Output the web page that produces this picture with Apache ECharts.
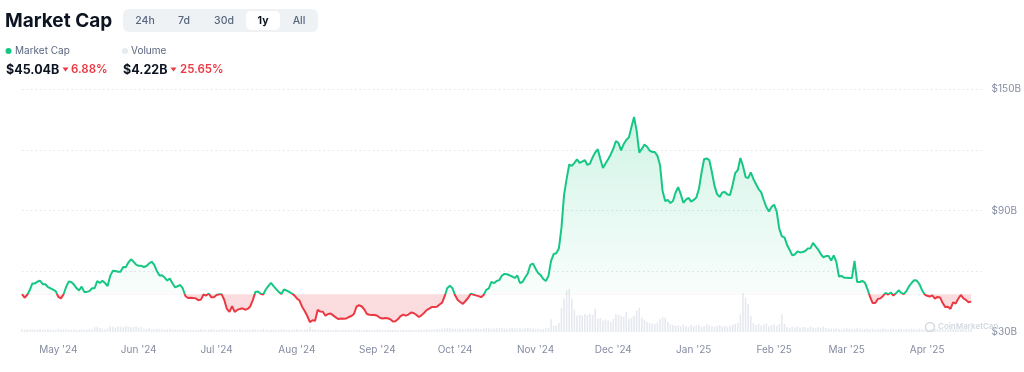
<!DOCTYPE html>
<html><head><meta charset="utf-8">
<script src="https://cdn.jsdelivr.net/npm/echarts@6/dist/echarts.min.js"></script>
<style>html,body{margin:0;padding:0;background:#fff}#c{width:1024px;height:372px}</style>
</head><body><div id="c"></div>
<script>
// ---- DATA ----
const startDate = '2024-04-17';
const padDays = 4;
// Market cap, daily, $B
const marketCap = [
48.7,46.9,48.3,50.7,54.0,54.0,54.9,55.3,53.6,53.6,
52.2,51.6,50.9,50.2,47.3,46.6,48.5,52.2,54.9,54.7,
53.5,51.7,50.5,52.4,49.8,49.8,50.2,51.6,51.6,55.2,
54.2,55.3,54.2,52.7,57.7,60.2,60.1,59.8,59.8,62.1,
62.0,64.3,65.9,64.8,63.3,62.7,62.7,62.1,62.6,63.8,
64.7,63.1,60.1,57.9,58.0,56.9,55.4,56.4,54.1,52.1,
52.6,53.2,51.5,47.8,46.8,46.9,46.8,46.6,45.7,46.0,
48.5,48.0,49.0,47.1,47.1,48.3,48.6,48.6,45.8,41.4,
39.9,42.8,39.9,40.9,41.4,41.7,41.0,41.4,42.6,45.8,
49.8,50.0,48.9,48.5,51.0,52.7,54.3,52.7,51.2,49.8,
48.8,51.0,50.5,49.8,49.1,48.1,46.6,45.5,42.5,40.4,
37.9,34.9,35.8,35.6,40.9,40.1,40.0,38.0,38.9,39.1,
38.2,37.2,36.4,36.7,36.6,36.7,37.4,37.9,38.9,42.6,
43.2,42.6,41.1,38.9,38.5,38.4,38.4,38.0,37.0,36.7,
36.9,36.8,36.3,35.2,35.3,36.4,37.9,38.6,38.1,38.6,
39.6,39.4,38.5,37.4,38.2,39.4,40.8,41.5,42.3,42.3,
42.5,43.6,44.5,47.8,51.7,52.8,51.6,48.1,45.8,44.8,
43.9,45.3,46.8,48.9,48.5,48.1,47.7,47.2,48.3,50.8,
51.5,54.8,54.1,55.2,55.6,57.8,58.7,58.5,58.0,57.4,
56.7,57.9,54.2,54.7,56.9,58.9,63.1,63.8,61.4,59.1,
58.1,56.2,55.2,57.7,65.1,68.5,68.9,71.2,81.4,97.7,
105.6,112.7,112.0,113.5,115.2,113.5,114.1,114.9,112.5,113.2,
116.2,118.6,120.3,115.4,111.0,113.2,115.3,117.7,120.5,124.3,
123.3,119.7,122.8,124.8,126.1,131.2,136.2,129.3,118.6,120.4,
122.6,121.5,119.6,118.9,118.9,117.0,112.5,99.6,94.7,95.2,
93.7,94.7,98.9,101.5,98.1,93.8,95.4,96.2,94.4,95.2,
96.4,100.6,108.6,115.3,115.7,114.9,109.0,102.3,98.1,96.7,
98.9,99.1,97.9,97.7,102.6,108.5,110.0,115.9,112.0,106.5,
106.0,108.8,105.6,103.1,100.6,99.1,95.2,91.7,89.5,91.7,
92.9,89.5,80.9,77.2,76.7,73.0,70.5,67.9,68.3,69.8,
69.3,69.5,70.0,71.2,71.3,74.0,72.3,70.7,68.5,66.9,
67.5,67.5,65.3,67.8,64.6,57.4,57.7,56.8,56.8,56.7,
56.7,65.1,54.7,54.7,55.2,54.4,51.2,47.3,44.3,44.3,
46.3,46.6,47.8,49.3,48.5,49.5,48.0,49.1,50.6,49.3,
48.7,50.2,52.5,54.2,55.6,55.4,53.7,50.8,48.6,47.9,
47.5,48.1,46.5,47.3,47.1,44.3,42.3,42.5,41.4,44.6,
44.1,46.4,48.3,46.6,45.8,44.7,45.0
];
// Volume, daily, $B
const volume = [
1.2,1.0,1.4,1.1,1.3,1.0,1.2,1.5,1.1,1.0,1.3,1.2,1.0,1.1,1.6,1.4,1.2,1.3,1.1,1.0,1.2,1.1,1.0,1.3,1.2,1.1,1.4,1.2,
2.4,2.6,2.0,
1.6,1.4,1.8,
2.8,2.5,2.2,2.9,2.6,2.4,3.0,2.7,2.3,2.5,2.8,2.2,2.4,
1.6,1.5,1.8,1.4,1.3,1.7,1.5,1.4,1.2,1.3,1.5,1.2,
1.1,1.0,1.2,1.3,1.0,1.1,1.2,1.0,0.9,1.1,1.3,1.2,1.0,1.1,1.4,1.2,1.0,1.1,1.5,1.3,
1.2,1.0,1.1,1.2,1.0,1.3,1.1,1.0,1.2,1.1,1.4,1.2,1.0,1.1,1.3,1.2,1.0,1.1,1.2,1.0,
1.1,1.3,1.2,1.0,1.1,1.0,1.2,1.3,1.1,1.0,1.2,1.4,
2.6,
1.4,1.2,1.0,1.1,0.9,1.0,1.1,0.9,1.0,1.2,1.0,0.9,1.1,1.0,1.0,0.9,1.1,1.2,1.0,0.9,
1.0,1.1,1.0,0.9,1.0,1.2,1.1,1.0,0.9,1.0,1.1,1.0,1.2,1.0,0.9,1.1,1.0,1.0,1.1,0.9,
1.0,1.2,1.1,1.0,1.3,1.1,1.2,
1.3,1.5,1.4,1.6,1.8,2.0,1.9,1.7,1.5,1.4,1.6,1.5,1.4,1.7,1.6,1.5,1.8,1.6,1.5,1.7,
1.9,1.8,1.6,1.7,2.0,1.8,1.9,1.7,1.6,1.8,2.0,1.9,1.7,1.8,1.6,1.9,2.1,1.8,1.7,
1.4,1.6,1.3,1.5,1.8,2.0,
6.3,3.0,3.2,4.5,12.0,16.5,20.5,21.3,16.5,11.0,8.0,8.5,8.2,8.8,8.4,9.0,8.5,11.5,
6.5,7.0,5.8,6.2,5.5,5.0,6.5,8.8,8.5,8.0,7.5,10.0,6.5,7.0,8.0,10.5,12.0,7.0,6.0,
5.0,4.5,4.2,4.0,4.8,6.3,7.5,7.0,5.0,3.8,
3.5,3.0,3.2,2.8,3.6,3.0,2.5,3.4,2.8,3.2,3.5,2.6,3.0,3.8,3.3,2.8,2.5,3.0,3.4,2.7,3.1,2.6,
3.0,3.5,4.0,4.5,
8.8,19.3,17.0,13.8,8.0,4.5,
3.5,4.0,3.2,3.6,4.2,3.0,3.4,3.8,3.1,4.0,
8.8,4.0,
2.4,2.0,2.6,2.2,2.8,2.1,2.5,2.3,2.0,2.7,2.2,1.9,2.4,2.1,2.6,2.0,1.8,
1.6,1.4,1.8,1.5,1.3,1.7,1.9,1.6,1.4,1.5,1.8,1.6,1.3,1.5,1.7,1.4,1.6,1.2,1.5,1.4,
1.7,1.5,1.3,1.6,1.4,1.2,1.5,1.6,1.3,1.4,1.5,1.7,1.4,1.3,1.6,1.5,1.2,1.4,1.3,1.5,
1.6,1.4,1.3,1.5,1.2,1.4,1.6,1.3,1.5,1.4,1.3,1.5,1.2,1.4,1.6
];
const tickDates = ['2024-05-01','2024-06-01','2024-07-01','2024-08-01','2024-09-01','2024-10-01',
  '2024-11-01','2024-12-01','2025-01-01','2025-02-01','2025-03-01','2025-04-01'];
const tickLabels = ["May '24","Jun '24","Jul '24","Aug '24","Sep '24","Oct '24",
  "Nov '24","Dec '24","Jan '25","Feb '25","Mar '25","Apr '25"];
const yTicks = [30, 90, 150];
const yTickLabels = ['$30B', '$90B', '$150B'];
const tabs = ['24h', '7d', '30d', '1y', 'All'];

// ---- BUILD ----
const categories = [];
const t0 = new Date(startDate + 'T00:00:00Z').getTime();
for (let i = 0; i < marketCap.length + padDays; i++) {
  categories.push(new Date(t0 + i * 86400000).toISOString().slice(0, 10));
}
const base = marketCap[0];
const GRID = { left: 22, right: 36, top: 89, bottom: 40 };
const H = 372 - GRID.top - GRID.bottom;
const basePx = GRID.top + (150 - base) / 120 * H;
const frac = (basePx - GRID.top) / H;
const FONT = 'Inter, "Noto Sans", sans-serif';
const GREEN = '#16c784', RED = '#ea3943';

const tabX = [145, 184, 224, 263, 299];
const graphic = [
  { type: 'text', x: 5, y: 21, style: { text: 'Market Cap', font: 'bold 19px ' + FONT, fill: '#0d1421', textVerticalAlign: 'middle', verticalAlign: 'middle' } },
  { type: 'rect', shape: { x: 123, y: 9, width: 195, height: 23, r: 6 }, style: { fill: '#eff2f5' } },
  { type: 'rect', shape: { x: 246, y: 11, width: 34, height: 19, r: 5 }, style: { fill: '#ffffff' } },
];
tabs.forEach((t, i) => {
  graphic.push({ type: 'text', x: tabX[i], y: 20.5, style: { text: t, font: (t === '1y' ? '700 ' : '500 ') + '10.5px ' + FONT,
    fill: t === '1y' ? '#0d1421' : '#58667e', textAlign: 'center', align: 'center', textVerticalAlign: 'middle', verticalAlign: 'middle' } });
});
graphic.push(
  { type: 'circle', shape: { cx: 8.5, cy: 51, r: 3 }, style: { fill: GREEN } },
  { type: 'text', x: 15, y: 51, style: { text: 'Market Cap', font: '10px ' + FONT, fill: '#58667e', textVerticalAlign: 'middle', verticalAlign: 'middle' } },
  { type: 'circle', shape: { cx: 125, cy: 51, r: 3 }, style: { fill: '#e6e9ee' } },
  { type: 'text', x: 131, y: 51, style: { text: 'Volume', font: '10px ' + FONT, fill: '#58667e', textVerticalAlign: 'middle', verticalAlign: 'middle' } },
  { type: 'text', x: 6, y: 70, style: { text: '$45.04B', font: 'bold 12.5px ' + FONT, fill: '#0d1421', textVerticalAlign: 'middle', verticalAlign: 'middle' } },
  { type: 'polygon', shape: { points: [[62.5, 67.5], [68.5, 67.5], [65.5, 71.5]] }, style: { fill: RED } },
  { type: 'text', x: 71, y: 70, style: { text: '6.88%', font: '600 11.5px ' + FONT, fill: RED, textVerticalAlign: 'middle', verticalAlign: 'middle' } },
  { type: 'text', x: 123, y: 70, style: { text: '$4.22B', font: 'bold 12.5px ' + FONT, fill: '#0d1421', textVerticalAlign: 'middle', verticalAlign: 'middle' } },
  { type: 'polygon', shape: { points: [[170.5, 67.5], [176.5, 67.5], [173.5, 71.5]] }, style: { fill: RED } },
  { type: 'text', x: 180, y: 70, style: { text: '25.65%', font: '600 11.5px ' + FONT, fill: RED, textVerticalAlign: 'middle', verticalAlign: 'middle' } },
  { type: 'circle', z: 10, shape: { cx: 930, cy: 327, r: 4.5 }, style: { fill: 'none', stroke: '#d3d8e1', lineWidth: 1.4 } },
  { type: 'text', z: 10, x: 938, y: 327, style: { text: 'CoinMarketCap', font: '600 8px ' + FONT, fill: '#d3d8e1', textVerticalAlign: 'middle', verticalAlign: 'middle' } }
);

const chart = echarts.init(document.getElementById('c'), null, { renderer: 'canvas' });
chart.setOption({
  animation: false,
  backgroundColor: '#ffffff',
  grid: { left: GRID.left, right: GRID.right, top: GRID.top, bottom: GRID.bottom, containLabel: false },
  xAxis: {
    type: 'category', data: categories, boundaryGap: false,
    axisLine: { show: false }, axisTick: { show: false }, splitLine: { show: false },
    axisLabel: {
      interval: (i, v) => tickDates.indexOf(v) >= 0,
      formatter: v => { const k = tickDates.indexOf(v); return k >= 0 ? tickLabels[k] : ''; },
      color: '#858ca2', fontSize: 10, fontFamily: FONT, margin: 13
    }
  },
  yAxis: [
    {
      type: 'value', position: 'right', min: 30, max: 150, interval: 30,
      axisLine: { show: false }, axisTick: { show: false },
      axisLabel: { formatter: v => { const k = yTicks.indexOf(v); return k >= 0 ? yTickLabels[k] : ''; }, color: '#858ca2', fontSize: 10, fontFamily: FONT, margin: 10 },
      splitLine: { lineStyle: { type: [1.5, 3], width: 1, color: ['rgba(0,0,0,0)', '#e0e3e8', '#e0e3e8', '#e0e3e8', '#e0e3e8'] } }
    },
    { type: 'value', min: 0, max: 120, show: false, splitLine: { show: false } }
  ],
  series: [
    { type: 'bar', yAxisIndex: 1, data: volume, barWidth: 1.6, itemStyle: { color: '#e6e9ef' }, silent: true, z: 1 },
    {
      type: 'line', data: marketCap, showSymbol: false, symbol: 'none', z: 3,
      lineStyle: {
        width: 2,
        color: new echarts.graphic.LinearGradient(0, GRID.top, 0, GRID.top + H, [
          { offset: 0, color: GREEN },
          { offset: frac, color: GREEN },
          { offset: frac, color: RED },
          { offset: 1, color: RED }
        ], true)
      },
      areaStyle: {
        origin: base,
        color: new echarts.graphic.LinearGradient(0, GRID.top, 0, GRID.top + H, [
          { offset: 0, color: 'rgba(22,199,132,0.32)' },
          { offset: frac, color: 'rgba(22,199,132,0.04)' },
          { offset: frac, color: 'rgba(234,57,67,0.25)' },
          { offset: 1, color: 'rgba(234,57,67,0.25)' }
        ], true)
      }
    }
  ],
  graphic: graphic
});
</script>
</body></html>
